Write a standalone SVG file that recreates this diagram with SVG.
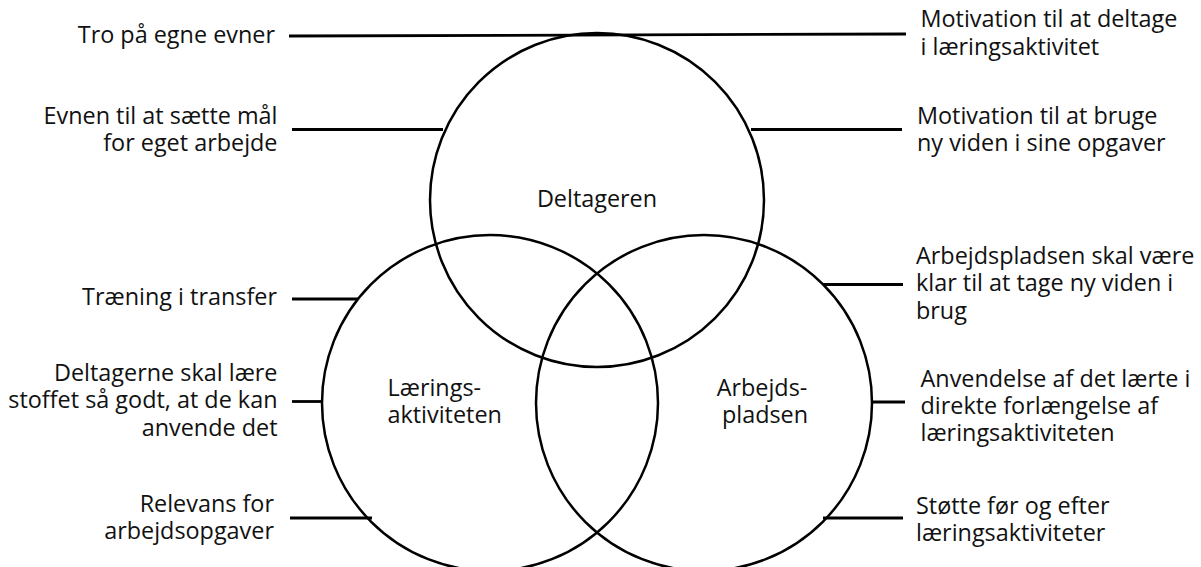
<svg xmlns="http://www.w3.org/2000/svg" width="1201" height="567" viewBox="0 0 1201 567">
<style>
.c{fill:none;stroke:#000;stroke-width:2.5}
.l{stroke:#000;stroke-width:2.8;fill:none}
text{font-family:"Open Sans","Noto Sans",sans-serif;font-size:23.4px;fill:#111}
.r{text-anchor:end}
.m{text-anchor:middle}
</style>
<rect width="1201" height="567" fill="#fff"/>
<g id="connectors">
<path class="l" d="M289 36 L906 34"/>
<path class="l" d="M292 129.5 L443 129.5"/>
<path class="l" d="M751 129.5 L902 129.5"/>
<path class="l" d="M292 299 L358 299"/>
<path class="l" d="M823 284.5 L903 284.5"/>
<path class="l" d="M292 401.5 L322 401.5"/>
<path class="l" d="M872 402 L905 402"/>
<path class="l" d="M290 518 L372 518"/>
<path class="l" d="M823 518 L903 518"/>
</g>
<g id="deltageren">
<circle class="c" cx="597" cy="200" r="167"/>
<text class="m" x="597" y="206.5">Deltageren</text>
</g>
<g id="laeringsaktiviteten">
<circle class="c" cx="490" cy="403" r="168"/>
<text x="387.5" y="395.5">Lærings-</text>
<text x="387.5" y="423">aktiviteten</text>
</g>
<g id="arbejdspladsen">
<circle class="c" cx="704" cy="403" r="168"/>
<text class="m" x="762" y="395.5">Arbejds-</text>
<text class="m" x="765" y="423">pladsen</text>
</g>
<g id="tro">
<text class="r" x="275" y="43">Tro på egne evner</text>
</g>
<g id="evnen">
<text class="r" x="277.5" y="124">Evnen til at sætte mål</text>
<text class="r" x="277.5" y="151">for eget arbejde</text>
</g>
<g id="traening">
<text class="r" x="277" y="305">Træning i transfer</text>
</g>
<g id="deltagerne">
<text class="r" x="277.5" y="381">Deltagerne skal lære</text>
<text class="r" x="277.5" y="408">stoffet så godt, at de kan</text>
<text class="r" x="277.5" y="435.5">anvende det</text>
</g>
<g id="relevans">
<text class="r" x="274" y="512">Relevans for</text>
<text class="r" x="274" y="538.5">arbejdsopgaver</text>
</g>
<g id="motivation-deltage">
<text x="920.5" y="27">Motivation til at deltage</text>
<text x="920.5" y="54.5">i læringsaktivitet</text>
</g>
<g id="motivation-bruge">
<text x="917" y="123.5">Motivation til at bruge</text>
<text x="917" y="151">ny viden i sine opgaver</text>
</g>
<g id="klar">
<text x="916" y="263.5">Arbejdspladsen skal være</text>
<text x="916" y="291">klar til at tage ny viden i</text>
<text x="916" y="318.5">brug</text>
</g>
<g id="anvendelse">
<text x="920.5" y="387">Anvendelse af det lærte i</text>
<text x="920.5" y="414">direkte forlængelse af</text>
<text x="920.5" y="441">læringsaktiviteten</text>
</g>
<g id="stoette">
<text x="916" y="513.5">Støtte før og efter</text>
<text x="916" y="540.5">læringsaktiviteter</text>
</g>
</svg>
